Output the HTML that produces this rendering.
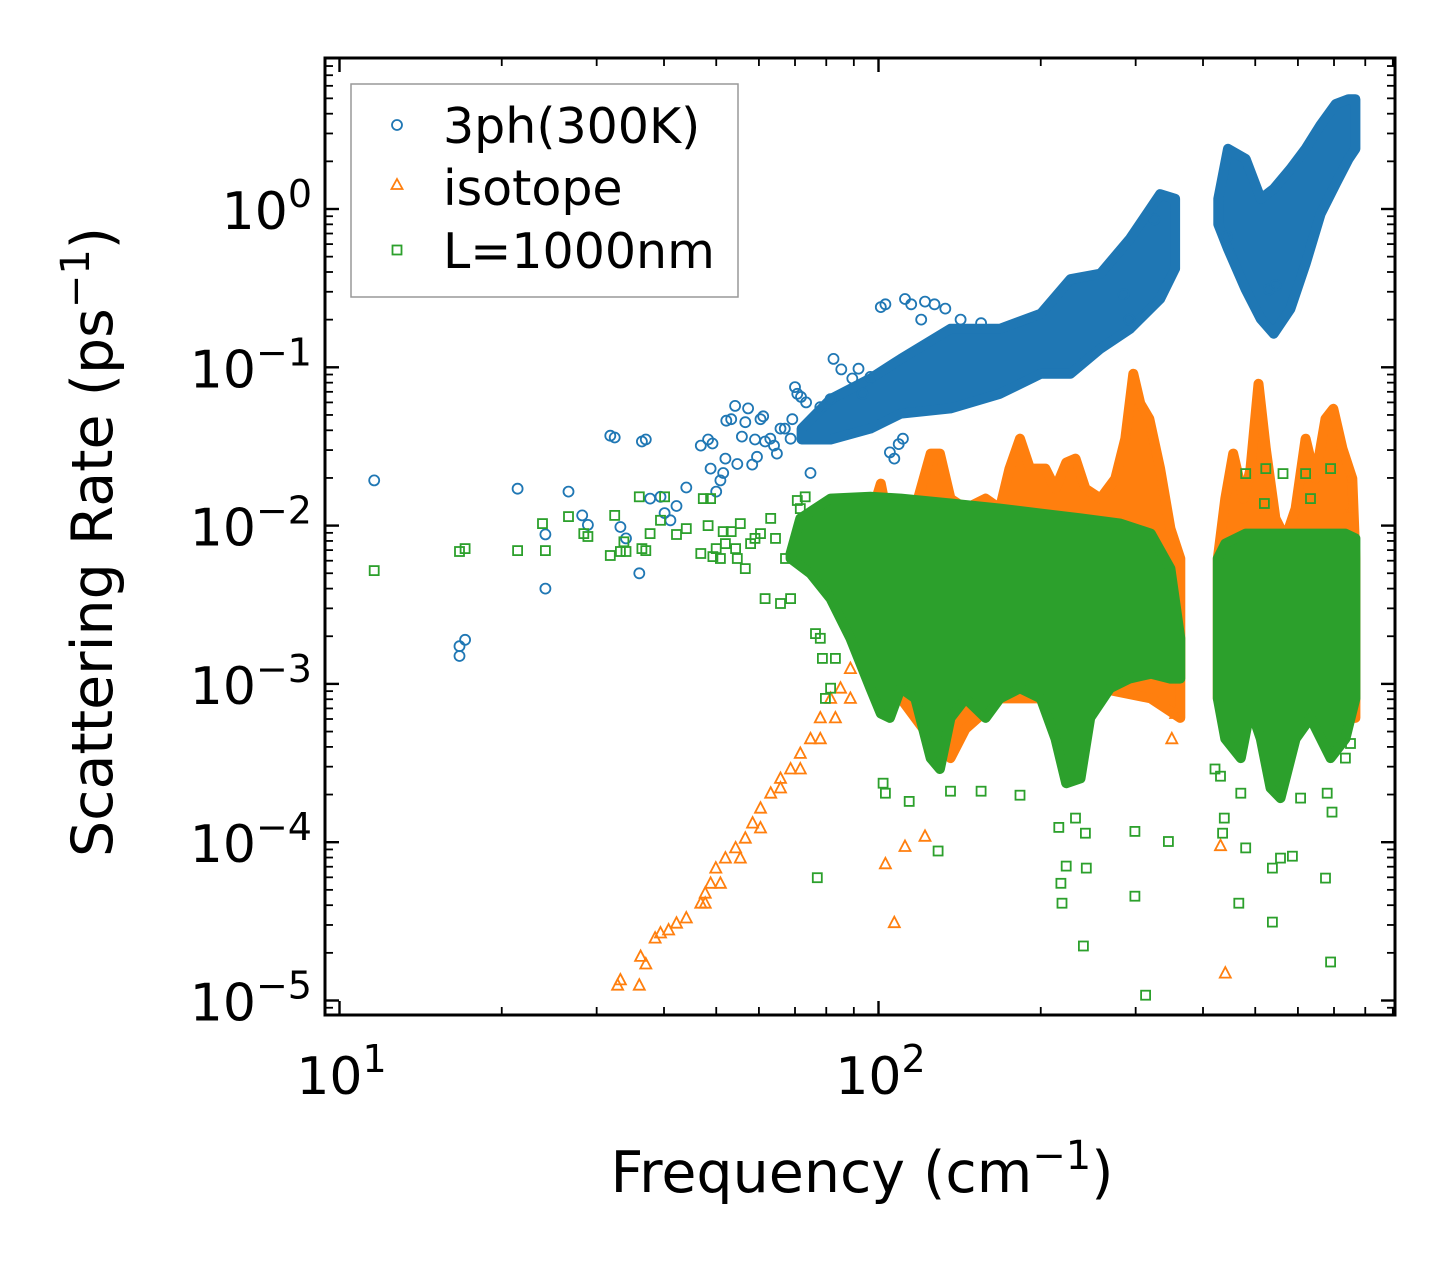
<!DOCTYPE html>
<html><head><meta charset="utf-8"><style>
html,body{margin:0;padding:0;background:#fff;}
svg{display:block;font-family:"DejaVu Sans","Liberation Sans",sans-serif;}
</style></head><body>
<svg id="chart" width="1455" height="1265" viewBox="0 0 1455 1265" xmlns="http://www.w3.org/2000/svg">
<rect width="1455" height="1265" fill="#fff"/>
<g id="marks"></g>
<g id="axes"></g>
<text x="862" y="1192" font-size="57" text-anchor="middle">Frequency (cm<tspan baseline-shift="super" font-size="40">−1</tspan>)</text>
<text transform="translate(112,542) rotate(-90)" font-size="57" text-anchor="middle">Scattering Rate (ps<tspan baseline-shift="super" font-size="40">−1</tspan>)</text>
<g>
<rect x="351" y="84" width="387" height="213" fill="#fff" stroke="#999" stroke-width="1.5"/>
<circle cx="397" cy="125" r="5" fill="none" stroke="#1f77b4" stroke-width="1.8"/>
<text x="443" y="143" font-size="49">3ph(300K)</text>
<path d="M397,179 L402.5,189 L391.5,189 Z" fill="none" stroke="#ff7f0e" stroke-width="1.8"/>
<text x="443" y="205" font-size="49">isotope</text>
<rect x="392.5" y="245.5" width="9" height="9" fill="none" stroke="#2ca02c" stroke-width="1.8"/>
<text x="443" y="268" font-size="49">L=1000nm</text>
</g>
</svg>
<script>
// ---- axis ticks ----
const xMajorTicks = [10, 100];
const xTickLabels = ["10", "10"];
const xTickExps = ["1", "2"];
const yMajorTicks = [1, 0.1, 0.01, 0.001, 0.0001, 0.00001];
const yTickLabels = ["10", "10", "10", "10", "10", "10"];
const yTickExps = ["0", "−1", "−2", "−3", "−4", "−5"];

// ---- 3ph (300K) ----
const blueBandF = [72, 81.5, 96.6, 110, 136, 168, 200, 227, 258, 293, 333, 355];
const blueBandHi = [0.041, 0.063, 0.085, 0.113, 0.175, 0.175, 0.218, 0.36, 0.39, 0.65, 1.24, 1.16];
const blueBandLo = [0.035, 0.035, 0.041, 0.051, 0.055, 0.068, 0.091, 0.091, 0.131, 0.175, 0.27, 0.42];
const blueBand2F = [427, 445, 480, 512, 541, 581, 620, 661, 705, 745, 767];
const blueBand2Hi = [1.16, 2.4, 2.07, 1.16, 1.34, 1.79, 2.4, 3.4, 4.6, 4.94, 4.94];
const blueBand2Lo = [0.80, 0.56, 0.31, 0.202, 0.163, 0.234, 0.45, 0.93, 1.44, 2.07, 2.4];
const bluePtsF = [11.6,16.7,16.7,17.1,21.4,24.1,24.1,26.6,28.2,28.9,31.8,32.4,33.2,34,36,36.4,37,37.7,39.4,40.1,41.1,42.2,44,46.8,48.3,49.2,48.8,50,50.9,51.5,52,52.2,53.3,54.2,54.7,55.8,56.6,57.3,58.3,59,59.5,60.4,61.1,61.6,63,64,64.8,65.8,67,68.7,69.2,70,70.7,71.8,73.4,74.8,78,81.5,82.5,85.3,89.4,91.8,93.4,96.6,101,103,112,115,120,122,127,133,142,155,107,109,111,105,285,292,325,443,530,545];
const bluePtsR = [0.0193,0.00173,0.0015,0.0019,0.0171,0.0088,0.004,0.0164,0.0116,0.0101,0.037,0.036,0.0098,0.0083,0.005,0.034,0.035,0.0148,0.0152,0.012,0.0108,0.0133,0.0174,0.032,0.035,0.033,0.0229,0.0164,0.0193,0.0215,0.0265,0.046,0.047,0.057,0.0245,0.0365,0.045,0.055,0.0243,0.035,0.0272,0.047,0.049,0.034,0.0354,0.032,0.0285,0.041,0.041,0.0354,0.047,0.075,0.068,0.065,0.06,0.0215,0.056,0.063,0.113,0.097,0.085,0.098,0.068,0.087,0.24,0.25,0.27,0.25,0.2,0.26,0.25,0.235,0.2,0.19,0.0265,0.0327,0.0354,0.029,0.29,0.2,0.86,0.67,0.31,0.33];

// ---- isotope ----
const orangeTopF = [90.5,96.6,101,104,110,117,125,130,136,145,158,168,175,183,191,204,213,223,232,242,258,275,287,297,306,318,333,348,363];
const orangeTopR = [0.0062,0.0111,0.0184,0.0111,0.0128,0.0128,0.0285,0.0285,0.0148,0.0128,0.0148,0.0128,0.0229,0.0354,0.0229,0.0229,0.0171,0.025,0.0265,0.0171,0.0148,0.0198,0.0354,0.091,0.059,0.0473,0.0229,0.0096,0.0062];
const orangeBotF = [90.5,101,110,125,136,145,168,208,258,320,363];
const orangeBotR = [0.00194,0.00081,0.00081,0.00045,0.00034,0.00052,0.00081,0.00081,0.00094,0.00081,0.00061];
const orangeTop2F = [426,440,455,476,490,507,523,545,569,594,620,646,675,698,726,757,767];
const orangeTop2R = [0.0062,0.0148,0.0285,0.0148,0.0229,0.0787,0.0306,0.0111,0.0083,0.0128,0.0354,0.0198,0.0473,0.0547,0.0306,0.0198,0.0062];
const orangeBot2F = [426,500,600,700,767];
const orangeBot2R = [0.00081,0.00061,0.00061,0.00061,0.00061];
const orangePtsF = [32.8,33.2,36,36.2,37,38.5,39.4,40.8,42.2,44,46.8,47.7,48.8,49.9,52,54.3,56.6,58.4,60.4,63.1,65.8,68.7,71.6,74.8,78,81.5,85,88.7,92.6,47.7,50.9,55.4,60.4,65.8,71.6,78,83.2,88.7,107,103,112,122,440,431,356,350,750,750,750,750];
const orangePtsR = [1.25e-5,1.35e-5,1.25e-5,1.9e-5,1.7e-5,2.48e-5,2.67e-5,2.79e-5,3.08e-5,3.32e-5,4.12e-5,4.76e-5,5.5e-5,6.86e-5,7.93e-5,9.2e-5,1.06e-4,1.32e-4,1.64e-4,2.04e-4,2.53e-4,2.9e-4,3.64e-4,4.5e-4,6.1e-4,8.1e-4,9.4e-4,1.25e-3,1.68e-3,4.12e-5,5.5e-5,7.93e-5,1.23e-4,2.2e-4,2.9e-4,4.5e-4,6.1e-4,8.1e-4,3.1e-5,7.3e-5,9.4e-5,1.09e-4,1.49e-5,9.5e-5,6.5e-4,4.5e-4,0.0198,0.0128,0.0083,0.0049];

// ---- L=1000nm ----
const greenTopF = [68.7,71.6,81.5,96.6,110,136,168,200,237,281,320,348,363];
const greenTopR = [0.00666,0.0111,0.0148,0.0152,0.0148,0.0138,0.0128,0.0119,0.0111,0.0103,0.0089,0.00535,0.00194];
const greenBotF = [68.7,74.8,81.5,88.7,96.6,101,105,110,117,125,130,136,145,158,168,183,200,213,223,237,247,269,292,320,348,363];
const greenBotR = [0.0062,0.00498,0.00346,0.00194,0.00094,0.00065,0.00061,0.00094,0.00081,0.00034,0.00029,0.00061,0.00081,0.00061,0.00081,0.00094,0.00081,0.00045,0.000236,0.000253,0.00061,0.00094,0.00108,0.00116,0.00108,0.00108];
const greenTop2F = [426,440,480,557,661,735,767];
const greenTop2R = [0.0062,0.0077,0.0089,0.0089,0.0089,0.0089,0.0083];
const greenBot2F = [426,440,470,490,512,534,557,594,633,690,735,767];
const greenBot2R = [0.00081,0.00045,0.00034,0.0007,0.00045,0.00022,0.00019,0.00045,0.00061,0.00034,0.00045,0.00081];
const greenPtsF = [11.6,16.7,17.1,21.4,23.8,24.1,26.6,28.4,28.9,31.8,32.4,33.2,33.7,34,36,36.4,37,37.7,39.4,40.1,42.2,44,46.8,47.3,48.3,48.8,49.3,50,50.9,51.5,52,53.3,54.3,54.7,55.4,56.6,57.9,59,60.4,61.6,63.1,64.4,65.8,67.2,68.7,70.7,71.6,73.1,76.4,78,78.7,79.7,81.5,83.2,77,102,103,114,129,136,155,183,216,218,219,223,232,242,243,240,299,299,313,345,435,438,466,480,538,538,557,586,675,690,694,680,431,421,470,607,735,751,480,523,563,520,633,690,620];
const greenPtsR = [0.0052,0.00686,0.00716,0.00695,0.0103,0.00695,0.0114,0.0089,0.00853,0.00647,0.0116,0.00686,0.0079,0.00686,0.0152,0.00716,0.00695,0.0089,0.0108,0.0152,0.00878,0.00957,0.00666,0.0148,0.01,0.0148,0.00637,0.00716,0.0062,0.00917,0.0077,0.00917,0.00716,0.0062,0.0103,0.00535,0.0077,0.0083,0.0089,0.00346,0.0111,0.0083,0.00322,0.0062,0.00346,0.0144,0.0128,0.0152,0.00208,0.00194,0.00145,0.00081,0.00094,0.00145,5.97e-5,0.000236,0.000204,0.000181,8.8e-5,0.00021,0.00021,0.000198,0.000124,5.5e-5,4.12e-5,7.06e-5,1.42e-4,1.14e-4,6.86e-5,2.21e-5,1.17e-4,4.56e-5,1.08e-5,1.01e-4,1.14e-4,1.42e-4,4.12e-5,9.2e-5,3.13e-5,6.86e-5,7.93e-5,8.16e-5,5.93e-5,1.75e-5,1.55e-4,2.04e-4,2.61e-4,2.9e-4,2.04e-4,1.9e-4,3.4e-4,4.2e-4,0.0213,0.0229,0.0213,0.0138,0.0148,0.0229,0.0213];

// ---- axis functions ----
const PL = 325, PR = 1395, PT = 58, PB = 1015;
function xS(f){ return 339.5 + 539 * (Math.log10(f) - 1); }
function yS(r){ return 209 - 158.3 * Math.log10(r); }
const NS = "http://www.w3.org/2000/svg";
const marks = document.getElementById('marks');
const axes = document.getElementById('axes');
function mk(tag, attrs, parent){ const e = document.createElementNS(NS, tag); for (const k in attrs) e.setAttribute(k, attrs[k]); parent.appendChild(e); return e; }

const defs = mk('defs', {}, marks);
const cp = mk('clipPath', {id: 'clip'}, defs);
mk('rect', {x: PL, y: PT, width: PR - PL, height: PB - PT}, cp);
marks.setAttribute('clip-path', 'url(#clip)');

function band(topF, topR, botF, botR, color, name){
  let pts = [];
  for (let i = 0; i < topF.length; i++) pts.push(xS(topF[i]).toFixed(1) + ',' + yS(topR[i]).toFixed(1));
  for (let i = botF.length - 1; i >= 0; i--) pts.push(xS(botF[i]).toFixed(1) + ',' + yS(botR[i]).toFixed(1));
  const p = mk('polygon', {points: pts.join(' '), fill: color, stroke: color, 'stroke-width': 10, 'stroke-linejoin': 'round'}, marks);
  
  
}
function circles(F, R, name){
  const g = mk('g', {fill: 'none', stroke: '#1f77b4', 'stroke-width': 1.8}, marks);
  
  
  for (let i = 0; i < F.length; i++){
    const c = mk('circle', {cx: xS(F[i]).toFixed(1), cy: yS(R[i]).toFixed(1), r: 5}, g);
    
    
  }
}
function triangles(F, R, name){
  const g = mk('g', {fill: 'none', stroke: '#ff7f0e', 'stroke-width': 1.8}, marks);
  
  
  for (let i = 0; i < F.length; i++){
    const x = xS(F[i]), y = yS(R[i]);
    const t = mk('path', {d: `M${x.toFixed(1)},${(y-6).toFixed(1)} L${(x+5.5).toFixed(1)},${(y+4.5).toFixed(1)} L${(x-5.5).toFixed(1)},${(y+4.5).toFixed(1)} Z`}, g);
    
    
  }
}
function squares(F, R, name){
  const g = mk('g', {fill: 'none', stroke: '#2ca02c', 'stroke-width': 1.8}, marks);
  
  
  for (let i = 0; i < F.length; i++){
    const s = mk('rect', {x: (xS(F[i]) - 4.5).toFixed(1), y: (yS(R[i]) - 4.5).toFixed(1), width: 9, height: 9}, g);
    
    
  }
}
band(blueBandF, blueBandHi, blueBandF, blueBandLo, '#1f77b4', 'band-3ph-low');
band(blueBand2F, blueBand2Hi, blueBand2F, blueBand2Lo, '#1f77b4', 'band-3ph-high');
circles(bluePtsF, bluePtsR, 'series-3ph-points');
band(orangeTopF, orangeTopR, orangeBotF, orangeBotR, '#ff7f0e', 'band-isotope-low');
band(orangeTop2F, orangeTop2R, orangeBot2F, orangeBot2R, '#ff7f0e', 'band-isotope-high');
triangles(orangePtsF, orangePtsR, 'series-isotope-points');
band(greenTopF, greenTopR, greenBotF, greenBotR, '#2ca02c', 'band-boundary-low');
band(greenTop2F, greenTop2R, greenBot2F, greenBot2R, '#2ca02c', 'band-boundary-high');
squares(greenPtsF, greenPtsR, 'series-boundary-points');

// ---- axes frame & ticks ----
const frame = mk('rect', {x: PL, y: PT, width: PR - PL, height: PB - PT, fill: 'none', stroke: '#000', 'stroke-width': 3}, axes);


function tickLine(x1, y1, x2, y2, w){ mk('line', {x1, y1, x2, y2, stroke: '#000', 'stroke-width': w}, axes); }
for (let d = 0; d <= 3; d++){
  for (let m = 1; m <= 9; m++){
    const val = m * Math.pow(10, d);
    const x = xS(val);
    if (x < PL + 1 || x > PR - 1) continue;
    const len = m === 1 ? 14 : 8;
    tickLine(x, PB, x, PB - len, m === 1 ? 2.4 : 1.8);
    tickLine(x, PT, x, PT + len, m === 1 ? 2.4 : 1.8);
  }
}
for (let d = -6; d <= 1; d++){
  for (let m = 1; m <= 9; m++){
    const v = m * Math.pow(10, d);
    const y = yS(v);
    if (y < PT + 1 || y > PB - 1) continue;
    const len = m === 1 ? 14 : 8;
    tickLine(PL, y, PL + len, y, m === 1 ? 2.4 : 1.8);
    tickLine(PR, y, PR - len, y, m === 1 ? 2.4 : 1.8);
  }
}
for (let i = 0; i < xMajorTicks.length; i++){
  const t = mk('text', {x: xS(xMajorTicks[i]) + 2, y: 1094, 'font-size': 52, 'text-anchor': 'middle'}, axes);
  
  
  t.textContent = xTickLabels[i];
  const s = mk('tspan', {'baseline-shift': 'super', 'font-size': 38}, t);
  s.textContent = xTickExps[i];
}
for (let i = 0; i < yMajorTicks.length; i++){
  const t = mk('text', {x: 312, y: yS(yMajorTicks[i]) + 20, 'font-size': 52, 'text-anchor': 'end'}, axes);
  
  
  t.textContent = yTickLabels[i];
  const s = mk('tspan', {'baseline-shift': 'super', 'font-size': 38}, t);
  s.textContent = yTickExps[i];
}
</script>
</body></html>
